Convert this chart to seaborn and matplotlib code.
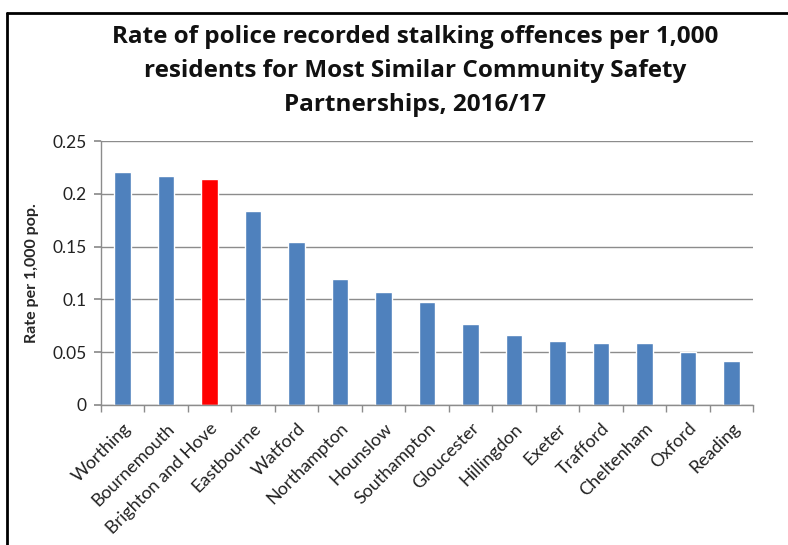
import matplotlib
matplotlib.use("Agg")
import matplotlib.pyplot as plt
import seaborn as sns
import pandas as pd
import numpy as np
from matplotlib.lines import Line2D
from matplotlib.ticker import FixedLocator

areas = ["Worthing", "Bournemouth", "Brighton and Hove", "Eastbourne", "Watford",
         "Northampton", "Hounslow", "Southampton", "Gloucester", "Hillingdon",
         "Exeter", "Trafford", "Cheltenham", "Oxford", "Reading"]
rates = [0.221, 0.217, 0.214, 0.184, 0.154, 0.119, 0.107, 0.098, 0.077, 0.066,
         0.061, 0.059, 0.059, 0.050, 0.042]
highlight = "Brighton and Hove"
y_ticks = [0, 0.05, 0.1, 0.15, 0.2, 0.25]
y_tick_labels = ["0", "0.05", "0.1", "0.15", "0.2", "0.25"]

blue = "#4F81BD"
red = "#FF0000"

sns.set_theme(style="white")
plt.rcParams["font.family"] = ["Lato", "DejaVu Sans"]

df = pd.DataFrame({"area": areas, "rate": rates})
palette = {a: (red if a == highlight else blue) for a in areas}

fig = plt.figure(figsize=(7.88, 5.45), dpi=100)
ax = fig.add_axes([0.128, 0.257, 0.828, 0.484])

sns.barplot(data=df, x="area", y="rate", hue="area", palette=palette,
            order=areas, hue_order=areas, width=0.38, dodge=False,
            legend=False, saturation=1, ax=ax)

ax.set_ylim(0, 0.25)
ax.set_xlim(-0.5, len(areas) - 0.5)
ax.set_yticks(y_ticks)
ax.set_yticklabels(y_tick_labels, fontsize=12.5, color="#222222")
ax.yaxis.grid(True, color="#8c8c8c", linewidth=1.0)
ax.set_axisbelow(True)

ax.set_xticks(range(len(areas)))
ax.set_xticklabels(areas, rotation=45, ha="right", rotation_mode="anchor",
                   fontsize=13, color="#222222")
ax.tick_params(axis="x", which="major", length=0, pad=11)
ax.xaxis.set_minor_locator(FixedLocator(np.arange(-0.5, len(areas), 1.0)))
ax.tick_params(axis="x", which="minor", length=5, color="#8c8c8c", direction="out", bottom=True)
ax.tick_params(axis="y", length=5, color="#8c8c8c", direction="out", left=True, pad=5)

for s in ["top", "right"]:
    ax.spines[s].set_visible(False)
for s in ["left", "bottom"]:
    ax.spines[s].set_color("#8c8c8c")
    ax.spines[s].set_linewidth(1.0)

ax.set_xlabel("")
ax.set_ylabel("Rate per 1,000 pop.", fontsize=11.5, fontweight="bold", labelpad=10)

fig.text(0.527, 1 - 71 / 545,
         "Rate of police recorded stalking offences per 1,000\n"
         "residents for Most Similar Community Safety\n"
         "Partnerships, 2016/17",
         ha="center", va="center", fontsize=17.5, fontweight="bold",
         family=["Open Sans", "DejaVu Sans"],
         linespacing=1.57, color="#111111")

fig.add_artist(Line2D([0.009, 1.0], [1 - 13 / 545, 1 - 13 / 545], transform=fig.transFigure,
                      color="black", linewidth=2))
fig.add_artist(Line2D([0.009, 0.009], [0.0, 1 - 13 / 545], transform=fig.transFigure,
                      color="black", linewidth=2))

fig.savefig("out.png", dpi=100)
